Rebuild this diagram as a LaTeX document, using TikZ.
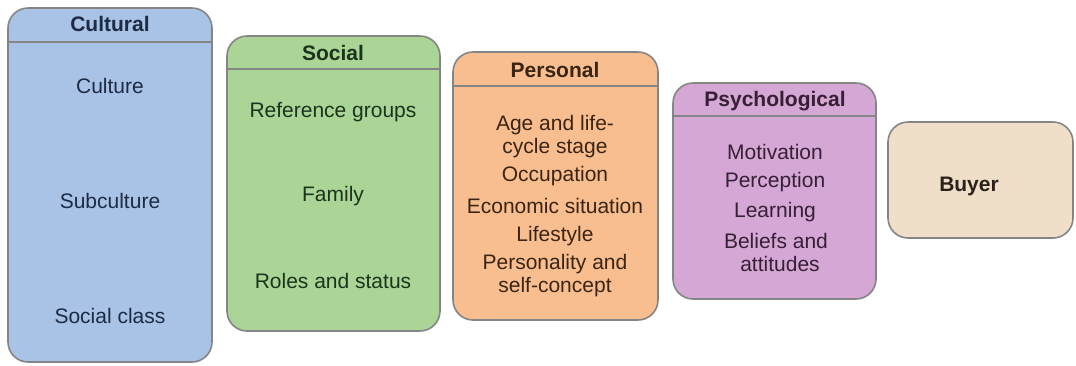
\documentclass[tikz,border=0pt]{standalone}
\usepackage{fontspec}
\setmainfont{Liberation Sans}
\usetikzlibrary{calc}
\definecolor{bordergray}{HTML}{858585}
\definecolor{culfill}{HTML}{A9C3E6}
\definecolor{socfill}{HTML}{AAD597}
\definecolor{perfill}{HTML}{F9BE8F}
\definecolor{psyfill}{HTML}{D4A7D5}
\definecolor{buyfill}{HTML}{EFDFC8}
\definecolor{cultext}{HTML}{1D2B44}
\definecolor{soctext}{HTML}{1C331C}
\definecolor{pertext}{HTML}{3A2412}
\definecolor{psytext}{HTML}{371F36}
\definecolor{buytext}{HTML}{2A211A}
\tikzset{
  factorbox/.style={draw=bordergray, line width=1.6pt, rounded corners=20pt, inner sep=0pt},
  headline/.style={draw=bordergray, line width=2pt},
  titletext/.style={font=\fontsize{21}{23}\selectfont\bfseries, text height=15pt, text depth=4pt, inner sep=0pt},
  itemtext/.style={font=\fontsize{21}{23}\selectfont, align=center, inner sep=0pt},
}
\begin{document}
\begin{tikzpicture}[x=1pt,y=-1pt]
\useasboundingbox (0,0) rectangle (1076,365);
% Cultural
\path[factorbox, fill=culfill] (8,8) rectangle (212,362);
\draw[headline] (9,42) -- (211,42);
\node[titletext, text=cultext] (culT) at (110,26) {Cultural};
\node[itemtext, text=cultext] (cul1) at (110,86) {Culture};
\node[itemtext, text=cultext] (cul2) at (110,201) {Subculture};
\node[itemtext, text=cultext] (cul3) at (110,316) {Social class};
% Social
\path[factorbox, fill=socfill] (227,36) rectangle (440,331);
\draw[headline] (228,69) -- (439,69);
\node[titletext, text=soctext] (socT) at (333,55) {Social};
\node[itemtext, text=soctext] (soc1) at (333,112) {Reference groups};
\node[itemtext, text=soctext] (soc2) at (333,196) {Family};
\node[itemtext, text=soctext] (soc3) at (333,281) {Roles and status};
% Personal
\path[factorbox, fill=perfill] (453,52) rectangle (658,320);
\draw[headline] (454,86) -- (657,86);
\node[titletext, text=pertext] (perT) at (555,72) {Personal};
\node[itemtext, text=pertext] (per1) at (555,137) {Age and life-\\cycle stage};
\node[itemtext, text=pertext] (per2) at (555,176) {Occupation};
\node[itemtext, text=pertext] (per3) at (555,206) {Economic situation};
\node[itemtext, text=pertext] (per4) at (555,236) {Lifestyle};
\node[itemtext, text=pertext] (per5) at (555,276) {Personality and\\self-concept};
% Psychological
\path[factorbox, fill=psyfill] (673,83) rectangle (876,299);
\draw[headline] (674,116) -- (875,116);
\node[titletext, text=psytext] (psyT) at (775,101) {Psychological};
\node[itemtext, text=psytext] (psy1) at (775,152) {Motivation};
\node[itemtext, text=psytext] (psy2) at (775,182) {Perception};
\node[itemtext, text=psytext] (psy3) at (775,212) {Learning};
\node[itemtext, text=psytext] (psy4) at (776,252) {Beliefs and\\\hspace*{8pt}attitudes};
% Buyer
\node[factorbox, fill=buyfill, minimum width=185pt, minimum height=116pt] (buyer) at (980.5,180) {};
\node[titletext, text=buytext] (buyT) at (969,186) {Buyer};
\end{tikzpicture}
\end{document}
